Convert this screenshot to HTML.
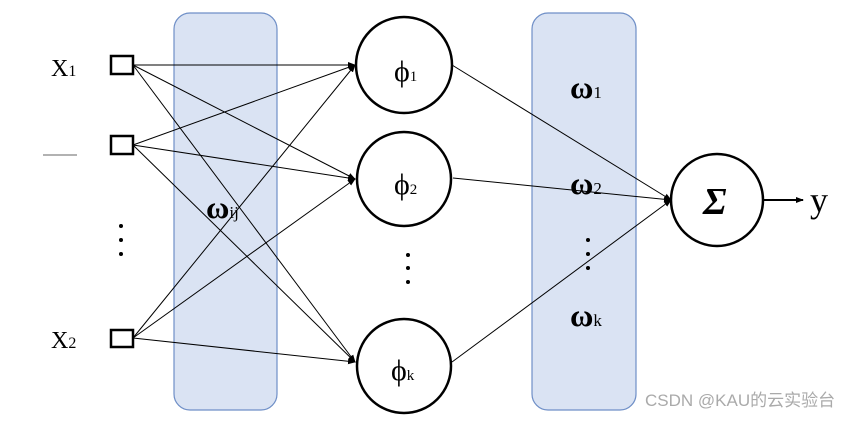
<!DOCTYPE html>
<html><head><meta charset="utf-8"><style>
body{margin:0;background:#fff}
svg text{font-family:"Liberation Serif",serif}
</style></head><body>
<svg width="865" height="418" viewBox="0 0 865 418" xmlns="http://www.w3.org/2000/svg">
<defs><marker id="a" markerWidth="8" markerHeight="8" refX="7" refY="4" orient="auto" markerUnits="userSpaceOnUse"><path d="M0,1 L8,4 L0,7z" fill="#000"/></marker></defs>
<rect x="174" y="13" width="103" height="397" rx="16" fill="#dae3f3" stroke="#6f8fc7" stroke-width="1.2"/>
<rect x="532" y="13" width="104" height="397" rx="16" fill="#dae3f3" stroke="#6f8fc7" stroke-width="1.2"/>
<g stroke="#000" stroke-width="1" fill="none" marker-end="url(#a)">
<line x1="133" y1="65" x2="355" y2="65"/><line x1="133" y1="65" x2="355" y2="179"/><line x1="133" y1="65" x2="355" y2="362"/>
<line x1="133" y1="145" x2="355" y2="65"/><line x1="133" y1="145" x2="355" y2="179"/><line x1="133" y1="145" x2="355" y2="362"/>
<line x1="133" y1="338" x2="355" y2="65"/><line x1="133" y1="338" x2="355" y2="179"/><line x1="133" y1="338" x2="355" y2="362"/>
<line x1="452" y1="65" x2="671" y2="200"/><line x1="453" y1="178" x2="671" y2="200"/><line x1="452" y1="362" x2="671" y2="200"/>
</g>
<g fill="#fff" stroke="#000" stroke-width="2.5">
<rect x="111" y="56" width="22" height="18"/><rect x="111" y="136" width="22" height="18"/><rect x="111" y="330" width="22" height="17"/>
<circle cx="404" cy="65" r="48"/><circle cx="404" cy="179" r="47"/><circle cx="404" cy="366" r="47"/><circle cx="717" cy="200" r="46"/>
</g>
<line x1="764" y1="200" x2="803" y2="200" stroke="#000" stroke-width="2" marker-end="url(#a)"/>
<line x1="43" y1="155" x2="77" y2="155" stroke="#666" stroke-width="1"/>
<g fill="#000">
<circle cx="121" cy="226" r="2"/><circle cx="121" cy="240" r="2"/><circle cx="121" cy="254" r="2"/>
<circle cx="408" cy="255" r="2"/><circle cx="408" cy="268" r="2"/><circle cx="408" cy="282" r="2"/>
<circle cx="588" cy="240" r="2"/><circle cx="588" cy="254" r="2"/><circle cx="588" cy="268" r="2"/>
</g>
<text x="51" y="76" font-size="24">X<tspan font-size="16">1</tspan></text>
<text x="51" y="348" font-size="24">X<tspan font-size="16">2</tspan></text>
<text x="394" y="81" font-size="30">ϕ<tspan font-size="15">1</tspan></text>
<text x="394" y="194" font-size="30">ϕ<tspan font-size="15">2</tspan></text>
<text x="391" y="380" font-size="30">ϕ<tspan font-size="15">k</tspan></text>
<text x="206" y="218" font-size="32" font-weight="bold">ω<tspan font-size="17" font-weight="normal">ij</tspan></text>
<text x="570" y="98" font-size="32" font-weight="bold">ω<tspan font-size="17" font-weight="normal">1</tspan></text>
<text x="570" y="194" font-size="32" font-weight="bold">ω<tspan font-size="17" font-weight="normal">2</tspan></text>
<text x="570" y="326" font-size="32" font-weight="bold">ω<tspan font-size="17" font-weight="normal">k</tspan></text>
<text x="703" y="214" font-size="38" font-weight="bold" font-style="italic">Σ</text>
<text x="810" y="212" font-size="36">y</text>
<text x="645" y="406" font-size="17" fill="#aaa" style="font-family:'Liberation Sans','Noto Sans CJK SC',sans-serif">CSDN @KAU的云实验台</text>
</svg>
</body></html>
